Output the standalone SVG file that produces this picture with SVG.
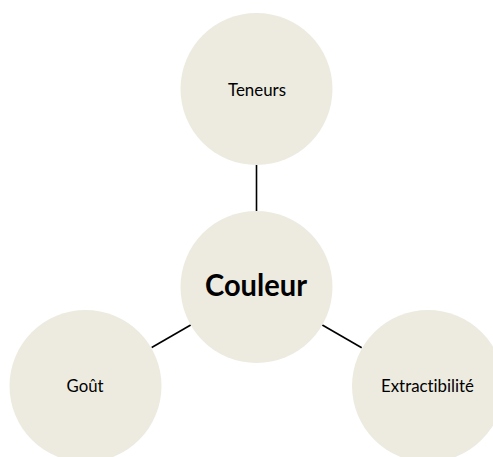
<svg xmlns="http://www.w3.org/2000/svg" width="493" height="457" viewBox="0 0 493 457">
<style>
.node{fill:#EDEBE0;}
.lbl{font-family:Lato,"Open Sans","Liberation Sans",sans-serif;font-size:18px;fill:#000;text-anchor:middle;font-variant-ligatures:none;}
.big{font-family:Lato,"Open Sans","Liberation Sans",sans-serif;font-size:31px;font-weight:bold;fill:#000;text-anchor:middle;font-variant-ligatures:none;}
.conn{stroke:#000;stroke-width:1.6;fill:none;}
</style>
<rect width="493" height="457" fill="#fff"/>
<g id="connectors">
<line class="conn" x1="256.5" y1="164.5" x2="256.5" y2="211"/>
<line class="conn" x1="190.7" y1="325" x2="151.7" y2="347.5"/>
<line class="conn" x1="322.3" y1="325" x2="361.7" y2="347.7"/>
</g>
<g id="node-teneurs">
<circle class="node" cx="256.5" cy="89" r="76"/>
<text class="lbl" x="257" y="96" textLength="58" lengthAdjust="spacingAndGlyphs">Teneurs</text>
</g>
<g id="node-couleur">
<circle class="node" cx="256.5" cy="287" r="76"/>
<text class="big" x="256" y="296" textLength="102" lengthAdjust="spacingAndGlyphs">Couleur</text>
</g>
<g id="node-gout">
<circle class="node" cx="85.5" cy="386" r="76"/>
<text class="lbl" x="85" y="392" textLength="37" lengthAdjust="spacingAndGlyphs">Goût</text>
</g>
<g id="node-extractibilite">
<circle class="node" cx="428" cy="386" r="76"/>
<text class="lbl" x="427.5" y="392" textLength="93" lengthAdjust="spacingAndGlyphs">Extractibilité</text>
</g>
</svg>
